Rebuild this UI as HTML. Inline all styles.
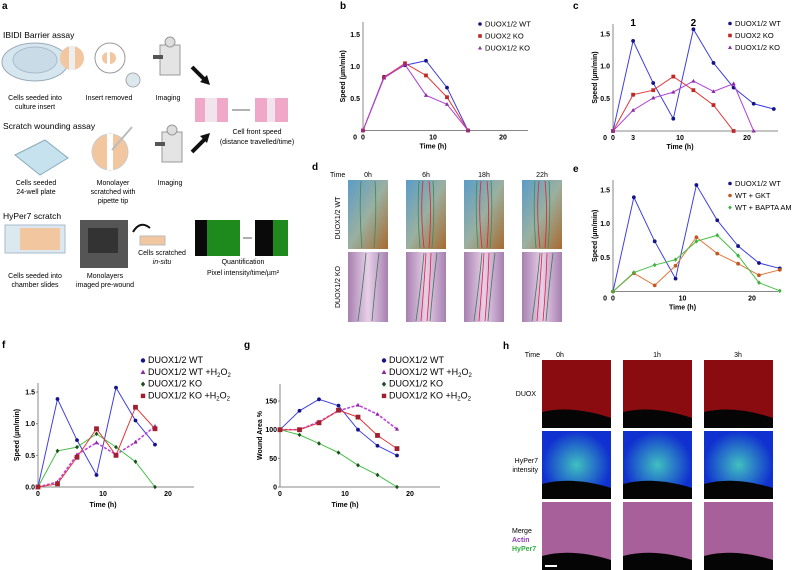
<!DOCTYPE html>
<html><head><meta charset="utf-8"><style>
body{margin:0;background:#fff}
svg{display:block;font-family:"Liberation Sans",sans-serif}
.pl{font-weight:bold;font-size:10px}
.tk{font-weight:bold;font-size:7px}
.lg{font-size:7.5px}
.lg2{font-size:9px}
.sm{font-size:7px}
.ax{stroke:#888;stroke-width:1}
</style></head><body>
<svg id="fig" width="797" height="570" viewBox="0 0 797 570">
<defs>
<linearGradient id="wtg" x1="0" y1="0" x2="1" y2="1"><stop offset="0" stop-color="#5a9cc8"/><stop offset="0.5" stop-color="#9ab0a0"/><stop offset="1" stop-color="#a86a30"/></linearGradient>
<linearGradient id="kog" x1="0" y1="0" x2="1" y2="0"><stop offset="0" stop-color="#a680b0"/><stop offset="0.5" stop-color="#e8d0e8"/><stop offset="1" stop-color="#a680b0"/></linearGradient>
<radialGradient id="hyg"><stop offset="0" stop-color="#40c0c0"/><stop offset="1" stop-color="#1030d0"/></radialGradient>
</defs>
<!-- Panel a -->
<g>
<text class="pl" x="2" y="9">a</text>
<text x="3" y="38" font-size="8.5">IBIDI Barrier assay</text>
<ellipse cx="35" cy="62" rx="33" ry="19" fill="#d6e6ee" stroke="#9ab"/>
<ellipse cx="35" cy="60" rx="22" ry="13" fill="#c8dbe6" stroke="#abc"/>
<circle cx="72" cy="58" r="12" fill="#f2c7a0"/>
<rect x="69" y="46" width="6" height="24" fill="#eee"/>
<circle cx="110" cy="58" r="15" fill="#fff" stroke="#999"/>
<rect x="102" y="52" width="14" height="12" rx="6" fill="#f2c7a0"/><rect x="107" y="52" width="3" height="12" fill="#fff"/>
<circle cx="133" cy="80" r="7" fill="#dde8ee" stroke="#aaa"/>
<g><rect x="160" y="45" width="20" height="30" fill="#e4e4e4" stroke="#999"/><circle cx="170" cy="42" r="5" fill="#ddd" stroke="#999"/><rect x="153" y="55" width="10" height="4" fill="#555"/></g>
<text class="sm" x="35" y="100" text-anchor="middle">Cells seeded into</text>
<text class="sm" x="35" y="109" text-anchor="middle">culture insert</text>
<text class="sm" x="109" y="100" text-anchor="middle">Insert removed</text>
<text class="sm" x="168" y="100" text-anchor="middle">Imaging</text>
<path d="M192 67 L205 80" stroke="#111" stroke-width="4"/><path d="M210 85 L200 82 L207 75Z" fill="#111"/>
<path d="M192 152 L205 139" stroke="#111" stroke-width="4"/><path d="M210 133 L207 143 L200 136Z" fill="#111"/>
<rect x="195" y="98" width="33" height="24" fill="#f0a8c8"/><rect x="205" y="98" width="12" height="24" fill="#f2e4ec"/>
<rect x="255" y="98" width="33" height="24" fill="#f0a8c8"/><rect x="267" y="98" width="8" height="24" fill="#f2e4ec"/>
<path d="M232 110 H250" stroke="#333" stroke-width="0.8"/>
<text class="sm" x="257" y="134" text-anchor="middle">Cell front speed</text>
<text class="sm" x="257" y="144" text-anchor="middle">(distance travelled/time)</text>
<text x="3" y="129" font-size="8.5">Scratch wounding assay</text>
<path d="M15 155 L45 140 L68 158 L40 175Z" fill="#c6e2ee" stroke="#8ab"/>
<circle cx="110" cy="152" r="18" fill="#f2c7a0" stroke="#ccc"/><rect x="107" y="134" width="6" height="36" fill="#fff"/>
<path d="M112 150 L132 127" stroke="#bbb" stroke-width="2"/>
<g><rect x="162" y="132" width="20" height="30" fill="#e4e4e4" stroke="#999"/><circle cx="172" cy="130" r="5" fill="#ddd" stroke="#999"/><rect x="155" y="142" width="10" height="4" fill="#555"/></g>
<text class="sm" x="36" y="185" text-anchor="middle">Cells seeded</text>
<text class="sm" x="36" y="194" text-anchor="middle">24-well plate</text>
<text class="sm" x="113" y="185" text-anchor="middle">Monolayer</text>
<text class="sm" x="113" y="194" text-anchor="middle">scratched with</text>
<text class="sm" x="113" y="203" text-anchor="middle">pipette tip</text>
<text class="sm" x="170" y="185" text-anchor="middle">Imaging</text>
<text x="3" y="219" font-size="8.5">HyPer7 scratch</text>
<rect x="5" y="225" width="60" height="28" fill="#dce8f0" stroke="#abc"/>
<rect x="20" y="228" width="40" height="22" fill="#f2c7a0"/>
<rect x="80" y="220" width="48" height="48" fill="#555"/><rect x="88" y="228" width="30" height="25" fill="#333"/>
<path d="M133 232 Q140 220 150 228" stroke="#111" stroke-width="2" fill="none"/>
<rect x="140" y="236" width="25" height="9" fill="#f2c7a0" stroke="#bbb"/>
<text class="sm" x="162" y="255" text-anchor="middle">Cells scratched</text>
<text class="sm" x="162" y="264" text-anchor="middle" font-style="italic">in-situ</text>
<rect x="195" y="220" width="45" height="36" fill="#0a0a0a"/><rect x="207" y="220" width="33" height="36" fill="#1e8a1e"/>
<rect x="255" y="220" width="33" height="36" fill="#0a0a0a"/><rect x="273" y="220" width="15" height="36" fill="#1e8a1e"/>
<path d="M243 238 H252" stroke="#333" stroke-width="0.8"/>
<text class="sm" x="243" y="264" text-anchor="middle">Quantification</text>
<text class="sm" x="243" y="275" text-anchor="middle">Pixel intensity/time/µm²</text>
<text class="sm" x="35" y="278" text-anchor="middle">Cells seeded into</text>
<text class="sm" x="35" y="287" text-anchor="middle">chamber slides</text>
<text class="sm" x="105" y="278" text-anchor="middle">Monolayers</text>
<text class="sm" x="105" y="287" text-anchor="middle">imaged pre-wound</text>
</g>
<!-- Panel d -->
<g id="pd">
<text class="pl" x="312" y="170">d</text>
<text class="sm" x="330" y="177">Time</text>
<text class="sm" x="340" y="218" transform="rotate(-90 340 218)" text-anchor="middle">DUOX1/2 WT</text>
<text class="sm" x="340" y="287" transform="rotate(-90 340 287)" text-anchor="middle">DUOX1/2 KO</text>
</g>
<!-- Panel h -->
<g id="ph">
<text class="pl" x="503" y="349">h</text>
<text class="sm" x="540" y="357" text-anchor="end">Time</text>
<text class="sm" x="536" y="396" text-anchor="end">DUOX</text>
<text class="sm" x="538" y="463" text-anchor="end">HyPer7</text>
<text class="sm" x="538" y="472" text-anchor="end">intensity</text>
<text class="sm" x="512" y="533">Merge</text>
<text class="sm" x="512" y="542" fill="#9040b0" font-weight="bold">Actin</text>
<text class="sm" x="512" y="551" fill="#30b040" font-weight="bold">HyPer7</text>
</g>
<g id="charts"></g>
</svg>
<script>
// ---- data ----
const tB = [0,3,6,9,12,15];
const bWT = [0,0.84,1.02,1.09,0.67,0];
const bD2KO = [0,0.83,1.05,0.86,0.52,0];
const bD12KO = [0,0.82,1.03,0.55,0.41,0];
const tC = [0,3,6,9,12,15,18,21,24];
const cWT = [0,1.39,0.74,0.19,1.57,1.05,0.67,0.42,0.34];
const cD2KO = [0,0.56,0.63,0.84,0.63,0.40,0];
const cD12KO = [0,0.32,0.51,0.60,0.77,0.61,0.73,0];
const eGKT = [0,0.27,0.09,0.38,0.80,0.56,0.41,0.24,0.32];
const eBAPTA = [0,0.28,0.39,0.47,0.74,0.83,0.53,0.13,0.01];
const tF = [0,3,6,9,12,15,18];
const fWT = [0,1.39,0.74,0.19,1.57,1.05,0.67];
const fWTH = [0,0.08,0.51,0.70,0.51,0.71,0.96];
const fKO = [0,0.57,0.63,0.84,0.63,0.40,0];
const fKOH = [0,0.05,0.47,0.92,0.50,1.26,0.92];
const gWT = [100,133,153,142,100,72,55];
const gWTH = [100,100,114,133,143,127,101];
const gKO = [100,91,76,60,38,21,0];
const gKOH = [100,100,112,134,122,90,67];
const xTicks = [0,10,20];
const speedTicks = [0.5,1.0,1.5];
const fTicks = ['0.0','0.5','1.0','1.5'];
const gTicks = [0,50,100,150];
const dTimes = ['0h','6h','18h','22h'];
const hTimes = ['0h','1h','3h'];

const NS='http://www.w3.org/2000/svg';
const root=document.getElementById('charts');
function mk(tag,attrs,parent){const e=document.createElementNS(NS,tag);for(const k in attrs)e.setAttribute(k,attrs[k]);(parent||root).appendChild(e);return e;}
function marker(g,shape,x,y,fill,s){
  let e;
  if(shape==='c') e=mk('circle',{cx:x,cy:y,r:s,fill:fill},g);
  else if(shape==='s') e=mk('rect',{x:x-s,y:y-s,width:2*s,height:2*s,fill:fill},g);
  else if(shape==='t') e=mk('path',{d:`M${x} ${y-s*1.2}L${x+s*1.1} ${y+s*0.8}L${x-s*1.1} ${y+s*0.8}Z`,fill:fill},g);
  else e=mk('path',{d:`M${x} ${y-s*1.2}L${x+s} ${y}L${x} ${y+s*1.2}L${x-s} ${y}Z`,fill:fill},g);
  return e;
}
function chart(o){
  const g=mk('g',{});
  
  
  const X=v=>o.x0+v*o.sx, Y=v=>o.y0-(v-o.ymin)*o.sy;
  mk('line',{x1:o.x0,y1:o.y0,x2:o.xEnd,y2:o.y0,class:'ax'},g);
  mk('line',{x1:o.x0,y1:o.y0,x2:o.x0,y2:o.yTop,class:'ax'},g);
  xTicks.forEach(v=>{const t=mk('text',{x:X(v),y:o.y0+9,class:'tk','text-anchor':'middle'},g);t.textContent=v;});
  (o.extraX||[]).forEach(v=>{const t=mk('text',{x:X(v),y:o.y0+9,class:'tk','text-anchor':'middle'},g);t.textContent=v;});
  o.yt.forEach(v=>{const t=mk('text',{x:o.x0-3,y:Y(+v)+2.5,class:'tk','text-anchor':'end'},g);t.textContent=v;
    if(o.tickMarks) mk('line',{x1:o.x0-2,y1:Y(+v),x2:o.x0,y2:Y(+v),class:'ax'},g);});
  if(o.zeroLbl){const t=mk('text',{x:o.x0-6,y:o.y0+9,class:'tk','text-anchor':'end'},g);t.textContent='0';}
  const xt=mk('text',{x:X(o.xMid),y:o.y0+(o.xtOff||18),class:'tk','font-size':o.tf||7.5,'text-anchor':'middle'},g);xt.textContent='Time (h)';
  
  const yx=o.ytx, yy=(o.y0+o.yTop)/2;
  const yt=mk('text',{x:yx,y:yy,class:'tk','font-size':o.tf||7.5,'text-anchor':'middle',transform:`rotate(-90 ${yx} ${yy})`},g);yt.textContent=o.ytitle;
  
  o.series.forEach(s=>{
    const pts=s.v.map((v,i)=>X(s.t[i])+','+Y(v)).join(' ');
    const pl=mk('polyline',{points:pts,fill:'none',stroke:s.line,'stroke-width':s.dash?1.6:1,'stroke-dasharray':s.dash?'3,1.5':'none'},g);
    
    s.v.forEach((v,i)=>{const m=marker(g,s.shape,X(s.t[i]),Y(v),s.mk,s.ms||1.9);
      });
  });
  o.series.forEach((s,i)=>{
    const ly=o.ly+i*o.ldy;
    const m=marker(g,s.shape,o.lx,ly-2.5,s.mk,o.lms||1.8);
    const t=mk('text',{x:o.lx+5,y:ly,class:o.lcls||'lg'},g);
    t.innerHTML=s.label;
    
  });
  const pl=mk('text',{x:o.px,y:o.py,class:'pl'},g);pl.textContent=o.plabel;
  return {g,X,Y};
}
const BL='#4040e0',BM='#14148a',RL='#e23a3a',RM='#c02828',PL='#b040d8',PM='#8c2ca0',GL='#44c044',GM='#1f4f1f',OL='#e07a40',OM='#c05a20',MR='#a02030';
chart({name:'chart-b',plabel:'b',px:340,py:9,x0:363,sx:7,y0:130.5,ymin:0,sy:64,xEnd:528,yTop:22,yt:speedTicks.map(v=>v.toFixed(1)),zeroLbl:true,xMid:10,ytx:345,ytitle:'Speed (µm/min)',
 lx:480,ly:26.5,ldy:12,
 series:[{id:'wt',t:tB,v:bWT,line:BL,mk:BM,shape:'c',label:'DUOX1/2 WT'},
 {id:'duox2-ko',t:tB,v:bD2KO,line:RL,mk:RM,shape:'s',label:'DUOX2 KO'},
 {id:'duox12-ko',t:tB,v:bD12KO,line:PL,mk:PM,shape:'t',label:'DUOX1/2 KO'}]});
const c=chart({name:'chart-c',plabel:'c',px:573,py:9,x0:613,sx:6.7,y0:131,ymin:0,sy:64.8,xEnd:778,yTop:24,yt:speedTicks.map(v=>v.toFixed(1)),extraX:[3],zeroLbl:true,xMid:10,ytx:597,ytitle:'Speed (µm/min)',
 lx:730,ly:26,ldy:12,
 series:[{id:'wt',t:tC,v:cWT,line:BL,mk:BM,shape:'c',label:'DUOX1/2 WT'},
 {id:'duox2-ko',t:tC,v:cD2KO,line:RL,mk:RM,shape:'s',label:'DUOX2 KO'},
 {id:'duox12-ko',t:tC,v:cD12KO,line:PL,mk:PM,shape:'t',label:'DUOX1/2 KO'}]});
[['1',3],['2',12]].forEach(p=>{const t=mk('text',{x:c.X(p[1]),y:26,class:'pl','text-anchor':'middle'});t.textContent=p[0];});
chart({name:'chart-e',plabel:'e',px:573,py:172,x0:613,sx:6.95,y0:291.5,ymin:0,sy:67.8,xEnd:778,yTop:180,yt:speedTicks.map(v=>v.toFixed(1)),zeroLbl:true,xMid:10,ytx:597,ytitle:'Speed (µm/min)',
 lx:730,ly:186,ldy:12,
 series:[{id:'wt',t:tC,v:cWT,line:BL,mk:BM,shape:'c',label:'DUOX1/2 WT'},
 {id:'gkt',t:tC,v:eGKT,line:OL,mk:OM,shape:'c',label:'WT + GKT'},
 {id:'bapta',t:tC,v:eBAPTA,line:GL,mk:'#40b040',shape:'d',label:'WT + BAPTA AM'}]});
chart({name:'chart-f',plabel:'f',px:2,py:348,x0:38,sx:6.5,y0:487,ymin:0,sy:63.3,xEnd:194,yTop:383,yt:fTicks,tickMarks:true,xMid:10,ytx:19,ytitle:'Speed (µm/min)',tf:8.5,xtOff:20,
 lx:143,ly:363,ldy:11.8,lcls:'lg2',lms:2.2,
 series:[{id:'wt',t:tF,v:fWT,line:BL,mk:BM,shape:'c',label:'DUOX1/2 WT'},
 {id:'wt-h2o2',t:tF,v:fWTH,line:'#c040e0',mk:'#8a2aa0',shape:'t',dash:true,label:'DUOX1/2 WT +H<tspan font-size="6" dy="2">2</tspan><tspan dy="-2">O</tspan><tspan font-size="6" dy="2">2</tspan>'},
 {id:'ko',t:tF,v:fKO,line:GL,mk:GM,shape:'d',label:'DUOX1/2 KO'},
 {id:'ko-h2o2',t:tF,v:fKOH,line:RL,mk:MR,shape:'s',ms:2.4,label:'DUOX1/2 KO +H<tspan font-size="6" dy="2">2</tspan><tspan dy="-2">O</tspan><tspan font-size="6" dy="2">2</tspan>'}]});
chart({name:'chart-g',plabel:'g',px:244,py:348,x0:280,sx:6.5,y0:487,ymin:0,sy:0.573,xEnd:440,yTop:384,yt:gTicks.map(String),tickMarks:true,xMid:10,ytx:262,ytitle:'Wound Area %',tf:8.5,xtOff:20,
 lx:384,ly:363,ldy:11.8,lcls:'lg2',lms:2.2,
 series:[{id:'wt',t:tF,v:gWT,line:BL,mk:BM,shape:'c',label:'DUOX1/2 WT'},
 {id:'wt-h2o2',t:tF,v:gWTH,line:'#c040e0',mk:'#8a2aa0',shape:'t',dash:true,label:'DUOX1/2 WT +H<tspan font-size="6" dy="2">2</tspan><tspan dy="-2">O</tspan><tspan font-size="6" dy="2">2</tspan>'},
 {id:'ko',t:tF,v:gKO,line:GL,mk:GM,shape:'d',label:'DUOX1/2 KO'},
 {id:'ko-h2o2',t:tF,v:gKOH,line:RL,mk:MR,shape:'s',ms:2.4,label:'DUOX1/2 KO +H<tspan font-size="6" dy="2">2</tspan><tspan dy="-2">O</tspan><tspan font-size="6" dy="2">2</tspan>'}]});

// Panel d images
const pd=document.getElementById('pd');
const dCols=[348,406,464,522];
dTimes.forEach((tm,i)=>{
  const x=dCols[i];
  const t=mk('text',{x:x+20,y:177,class:'sm','text-anchor':'middle'},pd);t.textContent=tm;
  const a=mk('rect',{x:x,y:180,width:40,height:69,fill:'url(#wtg)'},pd);
  
  const b=mk('rect',{x:x,y:252,width:40,height:70,fill:'url(#kog)'},pd);
  
  mk('path',{d:`M${x+13} 181 q-2 30 1 67 M${x+27} 181 q2 30 -1 67`,stroke:'#3a8a5a','stroke-width':0.8,fill:'none'},pd);
  mk('path',{d:`M${x+10} 321 q5 -35 8 -68 M${x+24} 321 q3 -35 7 -68`,stroke:'#3a7a5a','stroke-width':0.8,fill:'none'},pd);
  if(i>0){mk('path',{d:`M${x+17} 181 q-3 30 1 67 M${x+23} 181 q3 30 0 67`,stroke:'#e02040','stroke-width':0.8,fill:'none'},pd);
   mk('path',{d:`M${x+15} 321 q3 -35 5 -68 M${x+21} 321 q3 -35 4 -68`,stroke:'#e02040','stroke-width':0.8,fill:'none'},pd);}
});
// Panel h images
const ph=document.getElementById('ph');
const hCols=[542,623,704];
hTimes.forEach((tm,i)=>{
  const x=hCols[i];
  const t=mk('text',{x:x+(i==0?18:34),y:357,class:'sm','text-anchor':'middle'},ph);t.textContent=tm;
  const r1=mk('rect',{x:x,y:360,width:69,height:68,fill:'#8a0c10'},ph);
  
  mk('path',{d:`M${x} 412 Q${x+30} 405 ${x+69} 418 V428 H${x}Z`,fill:'#050505'},ph);
  const r2=mk('rect',{x:x,y:431,width:69,height:68,fill:'url(#hyg)'},ph);
  
  mk('path',{d:`M${x} 484 Q${x+30} 476 ${x+69} 488 V499 H${x}Z`,fill:'#050505'},ph);
  const r3=mk('rect',{x:x,y:502,width:69,height:68,fill:'#a8609a'},ph);
  
  mk('path',{d:`M${x} 556 Q${x+30} 548 ${x+69} 560 V570 H${x}Z`,fill:'#050505'},ph);
});
const sb=mk('rect',{x:545,y:565,width:12,height:2,fill:'#fff'},ph);


</script>
</body></html>
